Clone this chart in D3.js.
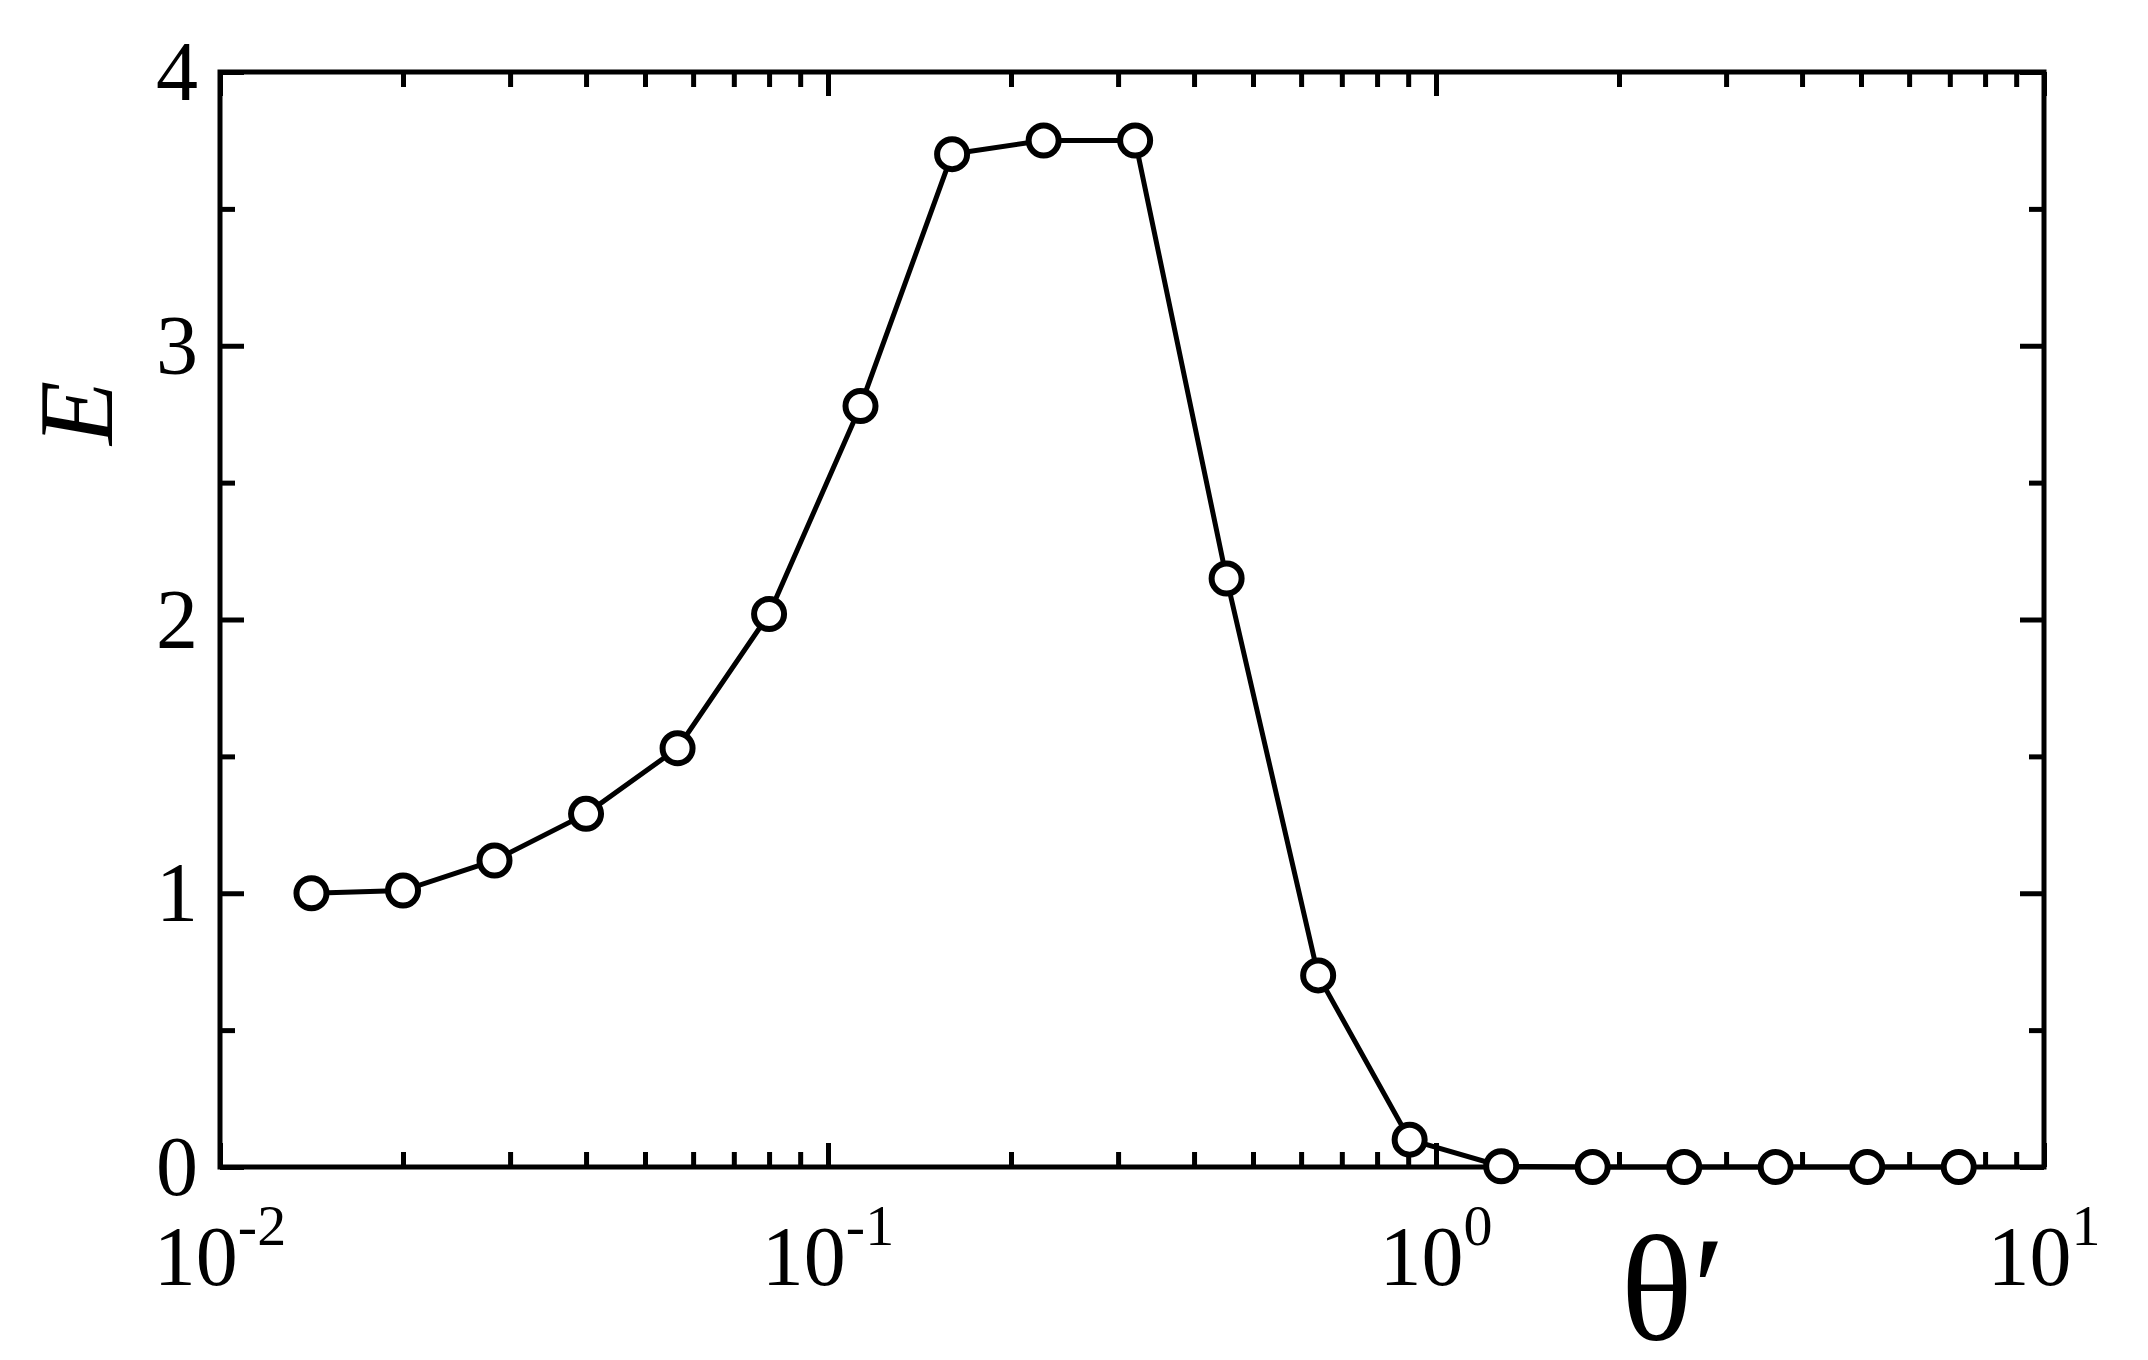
<!DOCTYPE html>
<html><head><meta charset="utf-8">
<script src="https://cdn.jsdelivr.net/npm/d3@7"></script>
<style>body{margin:0;background:#fff}</style>
</head><body>
<svg width="2148" height="1360"></svg>
<script>
var thetaVals = [0.01414, 0.02, 0.02828, 0.04, 0.05657, 0.08, 0.1131, 0.16, 0.2263, 0.32,
                 0.4525, 0.64, 0.905, 1.28, 1.81, 2.56, 3.62, 5.12, 7.24];
var eVals = [1.0, 1.01, 1.12, 1.29, 1.53, 2.02, 2.78, 3.70, 3.75, 3.75,
             2.15, 0.70, 0.10, 0.003, 0, 0, 0, 0, 0];
var yTicks = [0, 1, 2, 3, 4];
var xDecades = [-2, -1, 0, 1];

var svg = d3.select("svg"),
    margin = {top: 72, right: 104, bottom: 193, left: 220},
    width = 2148 - margin.left - margin.right,
    height = 1360 - margin.top - margin.bottom;
var font = "'Liberation Serif', 'Times New Roman', serif";

var x = d3.scaleLog().domain([0.01, 10]).range([0, width]),
    y = d3.scaleLinear().domain([0, 4]).range([height, 0]);

var g = svg.append("g").attr("transform", "translate(" + margin.left + "," + margin.top + ")");

// minor x ticks
var xMinor = [];
xDecades.slice(0, 3).forEach(function(d) {
    for (var k = 2; k <= 9; k++) xMinor.push(k * Math.pow(10, d));
});
var xMajor = xDecades.map(function(d) { return Math.pow(10, d); });

function tickStyle(sel) {
    sel.select(".domain").remove();
    sel.selectAll("line").attr("stroke", "#000").attr("stroke-width", 5);
    sel.selectAll("text").remove();
}
g.append("g").attr("transform", "translate(0," + height + ")")
    .call(d3.axisTop(x).tickValues(xMajor).tickSize(24)).call(tickStyle);
g.append("g").attr("transform", "translate(0," + height + ")")
    .call(d3.axisTop(x).tickValues(xMinor).tickSize(15)).call(tickStyle);
g.append("g").call(d3.axisBottom(x).tickValues(xMajor).tickSize(24)).call(tickStyle);
g.append("g").call(d3.axisBottom(x).tickValues(xMinor).tickSize(15)).call(tickStyle);

var yMinor = d3.range(0.5, 4, 1);
g.append("g").call(d3.axisRight(y).tickValues(yTicks).tickSize(24)).call(tickStyle);
g.append("g").call(d3.axisRight(y).tickValues(yMinor).tickSize(15)).call(tickStyle);
g.append("g").attr("transform", "translate(" + width + ",0)")
    .call(d3.axisLeft(y).tickValues(yTicks).tickSize(24)).call(tickStyle);
g.append("g").attr("transform", "translate(" + width + ",0)")
    .call(d3.axisLeft(y).tickValues(yMinor).tickSize(15)).call(tickStyle);

g.append("rect").attr("width", width).attr("height", height)
    .attr("fill", "none").attr("stroke", "#000").attr("stroke-width", 5);

// y labels
g.selectAll(".ylab").data(yTicks).enter().append("text")
    .attr("x", -22).attr("y", function(d) { return y(d) + 28; })
    .attr("text-anchor", "end").attr("font-family", font).attr("font-size", 84)
    .text(function(d) { return d; });

// x labels
var xl = g.selectAll(".xlab").data(xDecades).enter().append("text")
    .attr("x", function(d) { return x(Math.pow(10, d)); }).attr("y", height + 118)
    .attr("text-anchor", "middle").attr("font-family", font).attr("font-size", 84);
xl.append("tspan").text("10");
xl.append("tspan").attr("dy", -40).attr("font-size", 58).text(function(d) { return d; });

// axis titles
svg.append("text").attr("transform", "translate(112,413) rotate(-90)")
    .attr("text-anchor", "middle").attr("font-family", font).attr("font-style", "italic")
    .attr("font-size", 105).text("E");
svg.append("text").attr("x", 1673).attr("y", 1340)
    .attr("text-anchor", "middle").attr("font-family", font)
    .attr("font-size", 150).text("θ′");

var pts = thetaVals.map(function(t, i) { return [t, eVals[i]]; });
var line = d3.line().x(function(d) { return x(d[0]); }).y(function(d) { return y(d[1]); });
g.append("path").datum(pts).attr("d", line)
    .attr("fill", "none").attr("stroke", "#000").attr("stroke-width", 5);
g.selectAll("circle").data(pts).enter().append("circle")
    .attr("cx", function(d) { return x(d[0]); }).attr("cy", function(d) { return y(d[1]); })
    .attr("r", 15).attr("fill", "#fff").attr("stroke", "#000").attr("stroke-width", 6);
</script>
</body></html>
